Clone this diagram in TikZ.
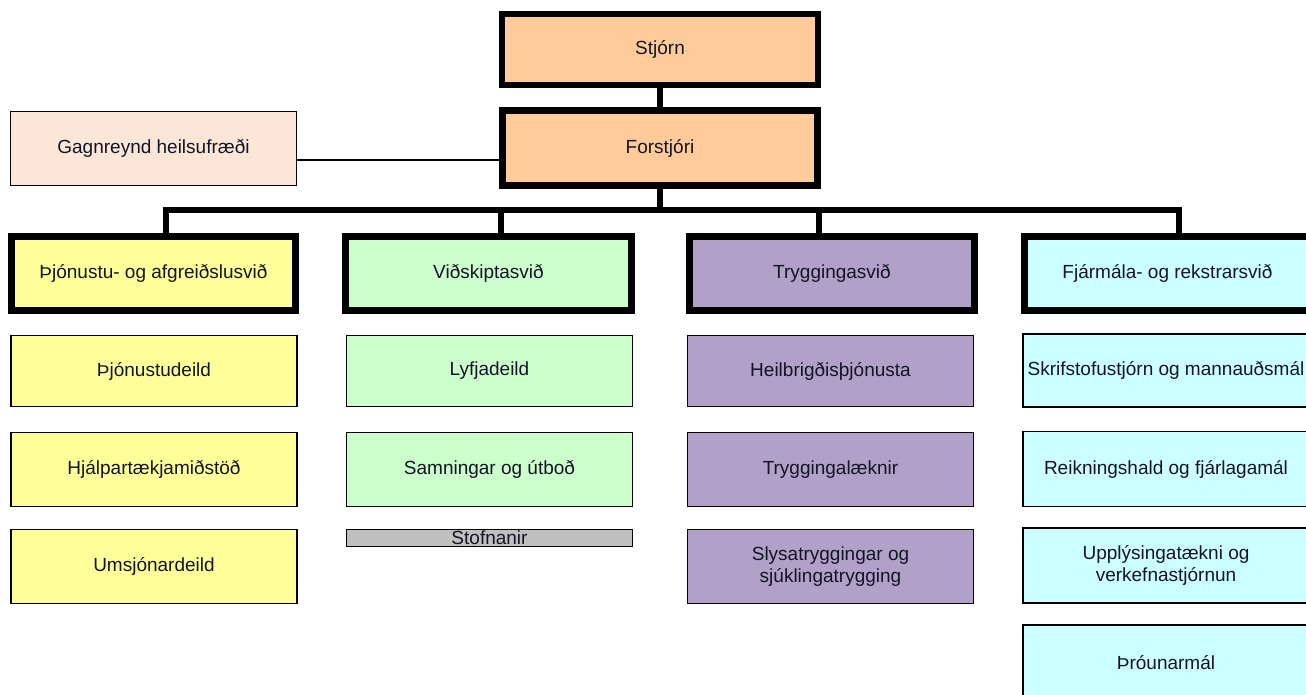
\documentclass[tikz,border=0pt]{standalone}
\usepackage{fontspec}
\setmainfont{Liberation Sans}
\definecolor{peach}{HTML}{FFCC99}
\definecolor{lightpeach}{HTML}{FCE6D8}
\definecolor{yel}{HTML}{FFFF99}
\definecolor{grn}{HTML}{CCFFCC}
\definecolor{purp}{HTML}{B1A0C7}
\definecolor{cyn}{HTML}{CCFFFF}
\definecolor{gry}{HTML}{C0C0C0}
\definecolor{txt}{HTML}{141428}
\tikzset{
  base/.style={rectangle, draw=black, inner sep=0pt, outer sep=0pt, align=center,
    text=txt, font=\fontsize{19}{22}\selectfont},
  topbox/.style={base, line width=6.5pt, fill=peach},
  headbox/.style={base, line width=7pt, minimum height=74pt},
  subbox/.style={base, line width=1.3pt, minimum width=286pt},
  thickline/.style={line width=5.5pt},
  thinline/.style={line width=1.3pt}
}
\begin{document}
\begin{tikzpicture}[x=1pt,y=-1pt]
\useasboundingbox (0,0) rectangle (1306,695);
\clip (0,0) rectangle (1306,695);
% top
\node[topbox, minimum width=316pt, minimum height=71pt] (stjorn) at (660,49.5) {Stjórn};
\node[topbox, line width=7pt, minimum width=315pt, minimum height=75pt] (forst) at (660,148) {Forstjóri};
\node[base, line width=1.3pt, fill=lightpeach, minimum width=286pt, minimum height=74pt] (gagn) at (153.5,148.5) {Gagnreynd heilsufræði};
% headings
\node[headbox, fill=yel, minimum width=284pt] (h1) at (153.5,273.5) {Þjónustu- og afgreiðslusvið};
\node[headbox, fill=grn, minimum width=286pt] (h2) at (488.5,273.5) {Viðskiptasvið};
\node[headbox, fill=purp, minimum width=285pt] (h3) at (832,273.5) {Tryggingasvið};
\node[headbox, fill=cyn, minimum width=286pt] (h4) at (1167.5,273.5) {Fjármála- og rekstrarsvið};
% column 1
\node[subbox, fill=yel, minimum height=71pt] (a1) at (154,371) {Þjónustudeild};
\node[subbox, fill=yel, minimum height=74pt] (a2) at (154,469.5) {Hjálpartækjamiðstöð};
\node[subbox, fill=yel, minimum height=74pt] (a3) at (154,566.5) {Umsjónardeild};
% column 2
\node[subbox, fill=grn, minimum height=71pt] (b1) at (489.5,371) {Lyfjadeild};
\node[subbox, fill=grn, minimum height=74pt] (b2) at (489.5,469.5) {Samningar og útboð};
\node[subbox, fill=gry, minimum height=17pt] (b3) at (489.5,538) {Stofnanir};
% column 3
\node[subbox, fill=purp, minimum height=71pt] (c1) at (830.5,371) {Heilbrigðisþjónusta};
\node[subbox, fill=purp, minimum height=74pt] (c2) at (830.5,469.5) {Tryggingalæknir};
\node[subbox, fill=purp, minimum height=74pt] (c3) at (830.5,566.5) {Slysatryggingar og\\sjúklingatrygging};
% column 4
\node[subbox, fill=cyn, minimum height=73pt] (d1) at (1166,370.5) {Skrifstofustjórn og mannauðsmál};
\node[subbox, fill=cyn, minimum height=75pt] (d2) at (1166,469) {Reikningshald og fjárlagamál};
\node[subbox, fill=cyn, minimum height=75pt] (d3) at (1166,565.5) {Upplýsingatækni og\\verkefnastjórnun};
\node[subbox, fill=cyn, minimum height=76pt] (d4) at (1166,663) {Þróunarmál};
% connectors
\draw[thickline] (stjorn.south) -- (forst.north);
\draw[thinline] ([yshift=-11.5pt]gagn.east) -- ([yshift=-11.5pt]gagn.east -| forst.west);
\coordinate (busL) at (166,210);
\coordinate (busR) at (1179,210);
\draw[thickline] (forst.south) -- (forst.south |- busL);
\draw[thickline, line cap=rect] (busL) -- (busR);
\draw[thickline] (busL) -- (busL |- h1.north);
\draw[thickline] (busR) -- (busR |- h4.north);
\coordinate (br2) at (501,210);
\coordinate (br3) at (819,210);
\draw[thickline] (br2) -- (br2 |- h2.north);
\draw[thickline] (br3) -- (br3 |- h3.north);
\end{tikzpicture}
\end{document}
